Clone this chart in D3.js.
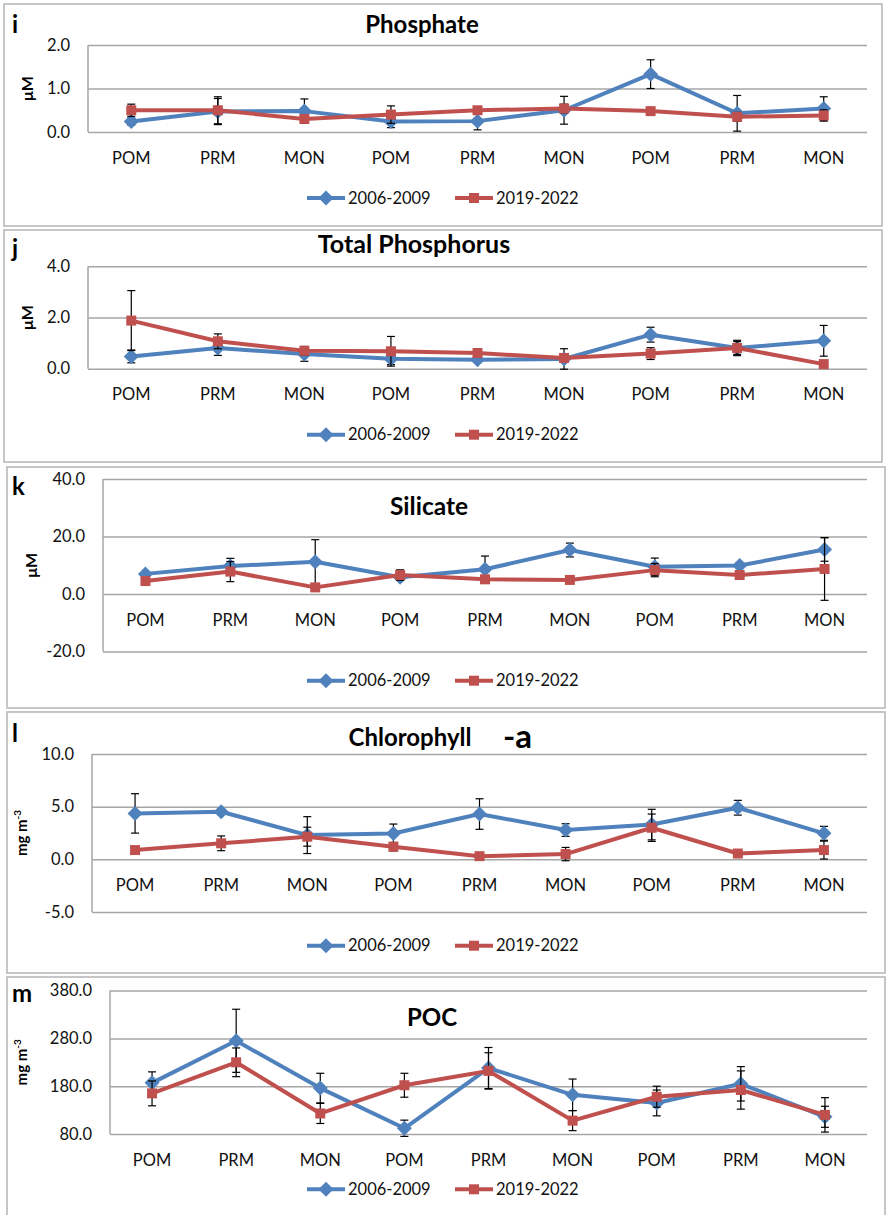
<!DOCTYPE html>
<html>
<head>
<meta charset="utf-8">
<script src="https://cdn.jsdelivr.net/npm/d3@7"></script>
<style>
  body { margin: 0; background: #fff; }
  svg { display: block; }
  text { font-family: Lato, "Open Sans", sans-serif; }
</style>
</head>
<body>
<svg></svg>
<script>
// categories along the x axis (three years of post-monsoon / pre-monsoon / monsoon)
const seasons = ["POM", "PRM", "MON", "POM", "PRM", "MON", "POM", "PRM", "MON"];
const seriesNames = ["2006-2009", "2019-2022"];

// Phosphate (µM)
const phosphateOld = [0.24, 0.47, 0.48, 0.24, 0.25, 0.50, 1.33, 0.43, 0.54];
const phosphateOldErr = [0.08, 0.30, 0.28, 0.14, 0.20, 0.32, 0.33, 0.41, 0.27];
const phosphateNew = [0.50, 0.50, 0.30, 0.40, 0.50, 0.54, 0.48, 0.35, 0.38];
const phosphateNewErr = [0.14, 0.31, 0.10, 0.20, 0.05, 0.10, 0.05, 0.10, 0.13];
const phosphateTicks = [0, 1, 2];

// Total phosphorus (µM)
const tpOld = [0.48, 0.81, 0.57, 0.39, 0.35, 0.38, 1.33, 0.81, 1.09];
const tpOldErr = [0.25, 0.29, 0.28, 0.23, 0.10, 0.40, 0.29, 0.30, 0.60];
const tpNew = [1.88, 1.07, 0.70, 0.68, 0.61, 0.42, 0.59, 0.81, 0.18];
const tpNewErr = [1.17, 0.29, 0.17, 0.58, 0.17, 0.10, 0.23, 0.25, 0.05];
const tpTicks = [0, 2, 4];

// Silicate (µM)
const silicateOld = [7.0, 9.7, 11.2, 5.8, 8.6, 15.3, 9.5, 9.9, 15.5];
const silicateOldErr = [0.8, 2.7, 7.7, 1.0, 4.6, 2.4, 3.0, 1.0, 4.1];
const silicateNew = [4.5, 7.8, 2.3, 6.6, 5.1, 4.9, 8.3, 6.6, 8.7];
const silicateNewErr = [0.6, 3.5, 1.0, 1.8, 0.8, 0.8, 2.3, 0.8, 10.9];
const silicateTicks = [-20, 0, 20, 40];

// Chlorophyll-a (mg m-3)
const chlOld = [4.36, 4.52, 2.30, 2.45, 4.30, 2.78, 3.30, 4.90, 2.47];
const chlOldErr = [1.87, 0.25, 1.75, 0.90, 1.45, 0.60, 1.45, 0.70, 0.66];
const chlNew = [0.88, 1.52, 2.15, 1.20, 0.30, 0.50, 3.00, 0.55, 0.88];
const chlNewErr = [0.30, 0.70, 0.90, 0.40, 0.15, 0.63, 1.30, 0.15, 0.85];
const chlTicks = [-5, 0, 5, 10];

// POC (mg m-3)
const pocOld = [187, 275, 176, 92, 218, 162, 145, 185, 116];
const pocOldErr = [23, 66, 31, 17, 43, 33, 27, 36, 22];
const pocNew = [165, 230, 123, 182, 212, 108, 158, 172, 120];
const pocNewErr = [26, 30, 21, 25, 38, 21, 22, 40, 36];
const pocTicks = [80, 180, 280, 380];

const blue = "#4f81bd";
const red = "#c0504d";
const grid = "#a6a6a6";

// plain hyphen for negative tick labels, like the original
const fmt = d3.formatLocale({decimal: ".", thousands: ",", grouping: [3], currency: ["", ""], minus: "-"}).format(".1f");

// layout of each panel: frame box, plot box [left, top, right, bottom], title spot
const panels = [
  {letter: "i", letterY: 33, title: "Phosphate", titleX: 422, titleY: 33, titleSize: 24, unit: "μM", unitX: 27,
   oldV: phosphateOld, oldE: phosphateOldErr, newV: phosphateNew, newE: phosphateNewErr, ticks: phosphateTicks,
   frame: [4, 4, 878, 222], plot: [88, 45, 867, 132], legendY: 198},
  {letter: "j", letterY: 257, title: "Total Phosphorus", titleX: 414, titleY: 253, titleSize: 25, unit: "μM", unitX: 27,
   oldV: tpOld, oldE: tpOldErr, newV: tpNew, newE: tpNewErr, ticks: tpTicks,
   frame: [4, 230, 878, 232], plot: [88, 266.3, 867, 368.7], legendY: 434.7},
  {letter: "k", letterY: 495, title: "Silicate", titleX: 429, titleY: 515, titleSize: 24.5, unit: "μM", unitX: 31,
   oldV: silicateOld, oldE: silicateOldErr, newV: silicateNew, newE: silicateNewErr, ticks: silicateTicks,
   frame: [7, 467, 878, 241], plot: [103, 479, 867, 651.5], legendY: 680.7},
  {letter: "l", letterY: 742, title: "Chlorophyll", titleX: 410, titleY: 746, titleSize: 24, suffix: "-a", unit: "mg m", unitX: 22,
   oldV: chlOld, oldE: chlOldErr, newV: chlNew, newE: chlNewErr, ticks: chlTicks,
   frame: [7, 712, 878, 261], plot: [92, 754, 867, 912], legendY: 945.7},
  {letter: "m", letterY: 1002, title: "POC", titleX: 432, titleY: 1026, titleSize: 24, unit: "mg m", unitX: 22,
   oldV: pocOld, oldE: pocOldErr, newV: pocNew, newE: pocNewErr, ticks: pocTicks,
   frame: [7, 977, 878, 260], plot: [110, 990.6, 867, 1134], legendY: 1189.3}
];

const svg = d3.select("svg").attr("width", 886).attr("height", 1215);
svg.append("rect").attr("width", 886).attr("height", 1215).attr("fill", "#fff");

const diamond = r => `M0,${-r}L${r},0L0,${r}L${-r},0Z`;
const square = s => `M${-s / 2},${-s / 2}h${s}v${s}h${-s}Z`;

panels.forEach(p => {
  const g = svg.append("g");
  const [fx, fy, fw, fh] = p.frame;
  g.append("rect").attr("x", fx).attr("y", fy).attr("width", fw).attr("height", fh)
    .attr("fill", "none").attr("stroke", "#b4b4b4").attr("stroke-width", 1.5);

  const [x0, y0, x1, y1] = p.plot;
  const x = d3.scaleBand().domain(d3.range(seasons.length)).range([x0, x1]);
  const y = d3.scaleLinear().domain(d3.extent(p.ticks)).range([y1, y0]);

  // gridlines and value labels
  g.append("g")
    .attr("transform", `translate(${x0},0)`)
    .call(d3.axisLeft(y).tickValues(p.ticks).tickFormat(fmt).tickSize(-(x1 - x0)).tickPadding(18))
    .call(a => a.select(".domain").remove())
    .call(a => a.selectAll("line").attr("stroke", grid).attr("stroke-width", 1.5))
    .call(a => a.selectAll("text").attr("fill", "#111"))
    .attr("font-size", 16.5).attr("font-family", "Lato, sans-serif");

  // vertical axis line
  g.append("line").attr("x1", x0).attr("x2", x0).attr("y1", y0).attr("y2", y1)
    .attr("stroke", grid).attr("stroke-width", 1.5);

  // category labels sit below the zero line
  const base = y(Math.max(0, y.domain()[0]));
  g.append("g")
    .attr("transform", `translate(0,${base})`)
    .call(d3.axisBottom(x).tickFormat(i => seasons[i]).tickSize(0).tickPadding(20))
    .call(a => a.select(".domain").remove())
    .call(a => a.selectAll("text").attr("fill", "#111"))
    .attr("font-size", 16.5).attr("font-family", "Lato, sans-serif");

  // panel letter, title, unit
  g.append("text").attr("x", 12).attr("y", p.letterY).attr("font-size", 24).attr("font-weight", "bold").text(p.letter);
  g.append("text").attr("x", p.titleX).attr("y", p.titleY).attr("text-anchor", "middle")
    .attr("font-size", p.titleSize).attr("font-weight", "bold").text(p.title);
  if (p.suffix) {
    g.append("text").attr("x", 503).attr("y", p.titleY + 2)
      .attr("font-size", 33).attr("font-weight", "bold").text(p.suffix);
  }
  const cy = (y0 + y1) / 2;
  const ut = g.append("text").attr("transform", `translate(${p.unitX},${cy}) rotate(-90)`)
    .attr("text-anchor", "middle").attr("dy", "0.35em")
    .attr("font-size", p.unit === "μM" ? 16 : 15).attr("font-weight", "bold").text(p.unit);
  if (p.unit !== "μM") {
    ut.append("tspan").attr("dy", -6).attr("font-size", 10).text("-3");
  }

  const cx = i => x(i) + x.bandwidth() / 2;
  const series = [
    {v: p.oldV, e: p.oldE, color: blue, shape: diamond(7.5)},
    {v: p.newV, e: p.newE, color: red, shape: square(10)}
  ];
  series.forEach(s => {
    const sg = g.append("g");
    // error bars
    const eb = sg.selectAll(".eb").data(s.v.map((v, i) => ({i, lo: v - s.e[i], hi: v + s.e[i]}))).enter().append("g");
    eb.append("line").attr("x1", d => cx(d.i)).attr("x2", d => cx(d.i))
      .attr("y1", d => y(d.lo)).attr("y2", d => y(d.hi)).attr("stroke", "#000").attr("stroke-width", 1.2);
    ["lo", "hi"].forEach(k => {
      eb.append("line").attr("x1", d => cx(d.i) - 4).attr("x2", d => cx(d.i) + 4)
        .attr("y1", d => y(d[k])).attr("y2", d => y(d[k])).attr("stroke", "#000").attr("stroke-width", 1.2);
    });
    // line
    sg.append("path").datum(s.v)
      .attr("d", d3.line().x((d, i) => cx(i)).y(d => y(d)))
      .attr("fill", "none").attr("stroke", s.color).attr("stroke-width", 4).attr("stroke-linejoin", "round");
    // markers
    sg.selectAll(".mk").data(s.v).enter().append("path")
      .attr("transform", (d, i) => `translate(${cx(i)},${y(d)})`)
      .attr("d", s.shape).attr("fill", s.color);
  });

  // legend
  const lg = g.append("g").attr("transform", `translate(0,${p.legendY})`);
  const items = [
    {name: seriesNames[0], color: blue, shape: diamond(7.5), lx: 307},
    {name: seriesNames[1], color: red, shape: square(10), lx: 455}
  ];
  items.forEach(it => {
    lg.append("line").attr("x1", it.lx).attr("x2", it.lx + 38).attr("y1", 0).attr("y2", 0)
      .attr("stroke", it.color).attr("stroke-width", 4);
    lg.append("path").attr("transform", `translate(${it.lx + 19},0)`).attr("d", it.shape).attr("fill", it.color);
    lg.append("text").attr("x", it.lx + 41).attr("dy", "0.35em").attr("font-size", 16.5).attr("fill", "#111").text(it.name);
  });
});
</script>
</body>
</html>
